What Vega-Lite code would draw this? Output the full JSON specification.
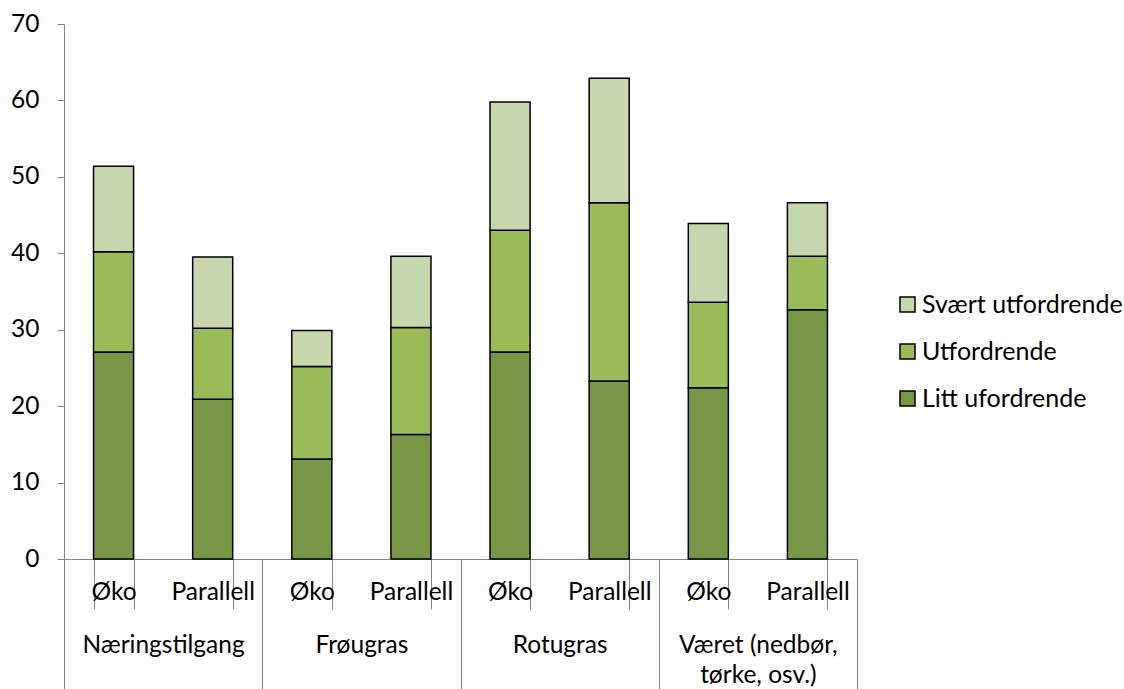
{
  "$schema": "https://vega.github.io/schema/vega-lite/v6.json",
  "width": 793,
  "height": 535,
  "autosize": {"type": "none"},
  "padding": {"left": 64, "top": 24, "right": 267, "bottom": 130},
  "background": "white",
  "config": {
    "view": {"stroke": null},
    "font": "Lato",
    "axis": {"labelFont": "Lato", "labelFontSize": 24.5, "labelColor": "#000000", "domainColor": "#868686", "tickColor": "#868686", "grid": false, "title": null},
    "legend": {"labelFont": "Lato", "labelFontSize": 25, "labelColor": "#000000", "labelLimit": 400}
  },
  "data": {
    "values": [
      {"gruppe": "Næringstilgang", "type": "Øko", "key": "Næringstilgang|Øko", "kategori": "Litt ufordrende", "niva": 1, "verdi": 27.1},
      {"gruppe": "Næringstilgang", "type": "Øko", "key": "Næringstilgang|Øko", "kategori": "Utfordrende", "niva": 2, "verdi": 13.1},
      {"gruppe": "Næringstilgang", "type": "Øko", "key": "Næringstilgang|Øko", "kategori": "Svært utfordrende", "niva": 3, "verdi": 11.2},
      {"gruppe": "Næringstilgang", "type": "Parallell", "key": "Næringstilgang|Parallell", "kategori": "Litt ufordrende", "niva": 1, "verdi": 20.9},
      {"gruppe": "Næringstilgang", "type": "Parallell", "key": "Næringstilgang|Parallell", "kategori": "Utfordrende", "niva": 2, "verdi": 9.3},
      {"gruppe": "Næringstilgang", "type": "Parallell", "key": "Næringstilgang|Parallell", "kategori": "Svært utfordrende", "niva": 3, "verdi": 9.3},
      {"gruppe": "Frøugras", "type": "Øko", "key": "Frøugras|Øko", "kategori": "Litt ufordrende", "niva": 1, "verdi": 13.1},
      {"gruppe": "Frøugras", "type": "Øko", "key": "Frøugras|Øko", "kategori": "Utfordrende", "niva": 2, "verdi": 12.1},
      {"gruppe": "Frøugras", "type": "Øko", "key": "Frøugras|Øko", "kategori": "Svært utfordrende", "niva": 3, "verdi": 4.7},
      {"gruppe": "Frøugras", "type": "Parallell", "key": "Frøugras|Parallell", "kategori": "Litt ufordrende", "niva": 1, "verdi": 16.3},
      {"gruppe": "Frøugras", "type": "Parallell", "key": "Frøugras|Parallell", "kategori": "Utfordrende", "niva": 2, "verdi": 14.0},
      {"gruppe": "Frøugras", "type": "Parallell", "key": "Frøugras|Parallell", "kategori": "Svært utfordrende", "niva": 3, "verdi": 9.3},
      {"gruppe": "Rotugras", "type": "Øko", "key": "Rotugras|Øko", "kategori": "Litt ufordrende", "niva": 1, "verdi": 27.1},
      {"gruppe": "Rotugras", "type": "Øko", "key": "Rotugras|Øko", "kategori": "Utfordrende", "niva": 2, "verdi": 15.9},
      {"gruppe": "Rotugras", "type": "Øko", "key": "Rotugras|Øko", "kategori": "Svært utfordrende", "niva": 3, "verdi": 16.8},
      {"gruppe": "Rotugras", "type": "Parallell", "key": "Rotugras|Parallell", "kategori": "Litt ufordrende", "niva": 1, "verdi": 23.3},
      {"gruppe": "Rotugras", "type": "Parallell", "key": "Rotugras|Parallell", "kategori": "Utfordrende", "niva": 2, "verdi": 23.3},
      {"gruppe": "Rotugras", "type": "Parallell", "key": "Rotugras|Parallell", "kategori": "Svært utfordrende", "niva": 3, "verdi": 16.3},
      {"gruppe": "Været (nedbør, tørke, osv.)", "type": "Øko", "key": "Været|Øko", "kategori": "Litt ufordrende", "niva": 1, "verdi": 22.4},
      {"gruppe": "Været (nedbør, tørke, osv.)", "type": "Øko", "key": "Været|Øko", "kategori": "Utfordrende", "niva": 2, "verdi": 11.2},
      {"gruppe": "Været (nedbør, tørke, osv.)", "type": "Øko", "key": "Været|Øko", "kategori": "Svært utfordrende", "niva": 3, "verdi": 10.3},
      {"gruppe": "Været (nedbør, tørke, osv.)", "type": "Parallell", "key": "Været|Parallell", "kategori": "Litt ufordrende", "niva": 1, "verdi": 32.6},
      {"gruppe": "Været (nedbør, tørke, osv.)", "type": "Parallell", "key": "Været|Parallell", "kategori": "Utfordrende", "niva": 2, "verdi": 7.0},
      {"gruppe": "Været (nedbør, tørke, osv.)", "type": "Parallell", "key": "Været|Parallell", "kategori": "Svært utfordrende", "niva": 3, "verdi": 7.0}
    ]
  },
  "layer": [
    {
      "mark": {"type": "bar", "stroke": "#000000", "strokeWidth": 1.5},
      "encoding": {
        "x": {
          "field": "key",
          "type": "nominal",
          "sort": ["Næringstilgang|Øko", "Næringstilgang|Parallell", "Frøugras|Øko", "Frøugras|Parallell", "Rotugras|Øko", "Rotugras|Parallell", "Været|Øko", "Været|Parallell"],
          "scale": {"paddingInner": 0.596, "paddingOuter": 0.298},
          "axis": {
            "orient": "bottom",
            "labelAngle": 0,
            "tickBand": "extent",
            "tickSize": 50,
            "labelPadding": -29,
            "labelExpr": "split(datum.label, '|')[1]"
          }
        },
        "y": {
          "field": "verdi",
          "type": "quantitative",
          "aggregate": "sum",
          "stack": "zero",
          "scale": {"domain": [0, 70], "nice": false},
          "axis": {"values": [0, 10, 20, 30, 40, 50, 60, 70], "tickSize": 7, "labelPadding": 18, "title": null}
        },
        "color": {
          "field": "kategori",
          "type": "nominal",
          "scale": {
            "domain": ["Svært utfordrende", "Utfordrende", "Litt ufordrende"],
            "range": ["#C6D6AD", "#9BBB59", "#789645"]
          },
          "legend": {
            "orient": "none",
            "legendX": 831,
            "legendY": 268,
            "title": null,
            "padding": 0,
            "symbolType": "square",
            "symbolSize": 225,
            "symbolStrokeColor": "#000000",
            "symbolStrokeWidth": 1.5,
            "labelOffset": 2,
            "labelLimit": 400,
            "rowPadding": 21
          }
        },
        "order": {"field": "niva", "type": "quantitative", "sort": "ascending"}
      }
    },
    {
      "mark": {"type": "point", "opacity": 0},
      "encoding": {
        "x": {
          "field": "gruppe",
          "type": "nominal",
          "sort": ["Næringstilgang", "Frøugras", "Rotugras", "Været (nedbør, tørke, osv.)"],
          "scale": {"paddingInner": 0, "paddingOuter": 0},
          "axis": {
            "orient": "bottom",
            "labelAngle": 0,
            "domain": false,
            "tickBand": "extent",
            "tickSize": 130,
            "labelPadding": -56,
            "labelLineHeight": 30,
            "labelLimit": 300,
            "labelExpr": "datum.label == 'Været (nedbør, tørke, osv.)' ? ['Været (nedbør,', 'tørke, osv.)'] : datum.label"
          }
        }
      }
    }
  ],
  "resolve": {"scale": {"x": "independent"}, "axis": {"x": "independent"}}
}
